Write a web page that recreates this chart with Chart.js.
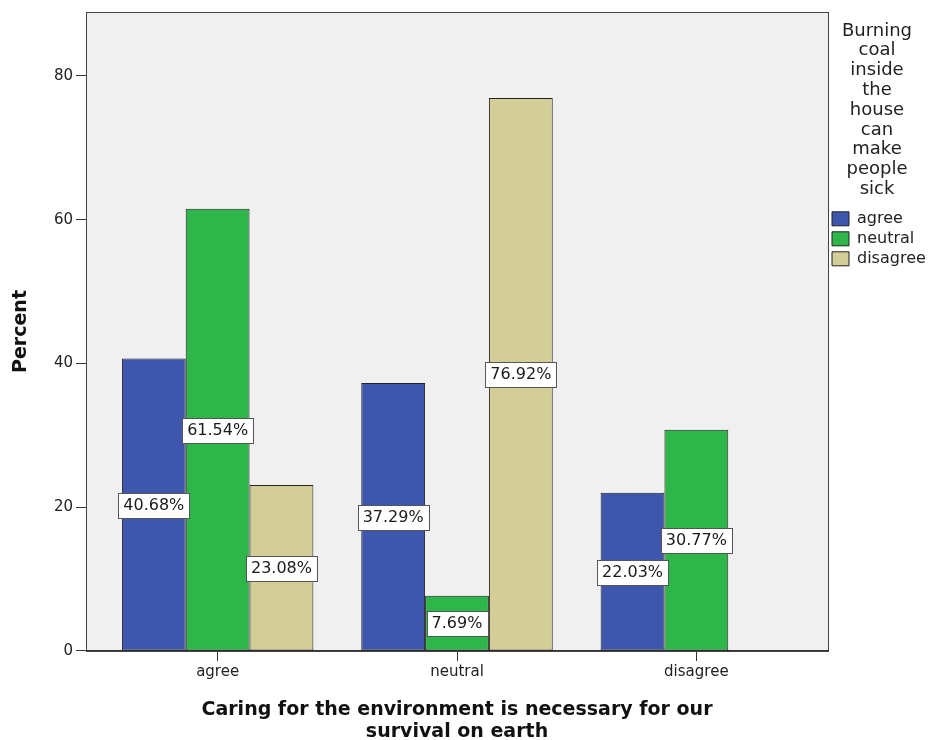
<!DOCTYPE html>
<html lang="en">
<head>
  <meta charset="UTF-8" />
  <title>Caring for the environment vs burning coal</title>
  <script src="https://cdn.jsdelivr.net/npm/chart.js"></script>
  <style>
    body { margin:0; background:#fff; }
    #wrap { width:930px; height:740px; }
  </style>
</head>
<body>
  <div id="wrap"><canvas id="chart" width="930" height="740"></canvas></div>

  <script>
    const categories = ['agree', 'neutral', 'disagree'];
    const seriesNames = ['agree', 'neutral', 'disagree'];
    const agreeVals = [40.68, 37.29, 22.03];
    const neutralVals = [61.54, 7.69, 30.77];
    const disagreeVals = [23.08, 76.92, null];
    const yTicks = [0, 20, 40, 60, 80];
    const legendTitle = ['Burning', 'coal', 'inside', 'the', 'house', 'can', 'make', 'people', 'sick'];
    const xTitle = ['Caring for the environment is necessary for our', 'survival on earth'];
    const colors = ['#3e57ac', '#2fb64a', '#d3ce97'];

    const FONT = '"DejaVu Sans", sans-serif';
    const toPoints = vals => vals.map((v, i) => ({ x: i, y: v }));
    const allVals = [agreeVals, neutralVals, disagreeVals];

    // plot background + frame
    const plotFrame = {
      id: 'plotFrame',
      beforeDraw(chart) {
        const { ctx, chartArea: a } = chart;
        ctx.save();
        ctx.fillStyle = '#f0f0f0';
        ctx.fillRect(a.left, a.top, a.right - a.left, a.bottom - a.top);
        ctx.restore();
      },
      afterDraw(chart) {
        const { ctx, chartArea: a } = chart;
        ctx.save();
        ctx.strokeStyle = '#444';
        ctx.lineWidth = 1;
        ctx.strokeRect(Math.round(a.left) + 0.5, Math.round(a.top) + 0.5,
          Math.round(a.right - a.left), Math.round(a.bottom - a.top));
        ctx.restore();
      }
    };

    // boxed percent labels at half bar height
    const boxLabels = {
      id: 'boxLabels',
      afterDatasetsDraw(chart) {
        const ctx = chart.ctx;
        ctx.save();
        ctx.font = '16px ' + FONT;
        ctx.textAlign = 'center';
        ctx.textBaseline = 'middle';
        chart.data.datasets.forEach((ds, di) => {
          chart.getDatasetMeta(di).data.forEach((bar, i) => {
            const v = ds.data[i].y;
            if (v == null) return;
            const txt = v.toFixed(2) + '%';
            const cy = Math.round((bar.y + bar.base) / 2);
            const w = Math.round(ctx.measureText(txt).width + 10), h = 25;
            const x0 = Math.round(bar.x - w / 2), y0 = Math.round(cy - h / 2);
            ctx.fillStyle = '#fff';
            ctx.fillRect(x0, y0, w, h);
            ctx.strokeStyle = '#555';
            ctx.lineWidth = 1;
            ctx.strokeRect(x0 + 0.5, y0 + 0.5, w, h);
            ctx.fillStyle = '#1a1a1a';
            ctx.fillText(txt, bar.x, cy + 1);
          });
        });
        ctx.restore();
      }
    };

    new Chart(document.getElementById('chart'), {
      type: 'bar',
      data: {
        datasets: seriesNames.map((name, k) => ({
          label: name,
          data: toPoints(allVals[k]),
          backgroundColor: colors[k],
          borderColor: '#222',
          borderWidth: 1,
          borderSkipped: false
        }))
      },
      options: {
        responsive: false,
        animation: false,
        categoryPercentage: 0.8,
        barPercentage: 1,
        layout: { padding: { top: 10, right: 4, bottom: -3, left: 0 } },
        plugins: {
          tooltip: { enabled: false },
          legend: {
            position: 'right',
            align: 'start',
            maxWidth: 98,
            title: {
              display: true,
              text: legendTitle,
              color: '#222',
              font: { family: FONT, size: 18, lineHeight: 1.1 },
              padding: { top: 12, bottom: 165 }
            },
            labels: {
              color: '#222',
              font: { family: FONT, size: 16 },
              boxWidth: 17,
              boxHeight: 14,
              padding: 4
            }
          }
        },
        scales: {
          x: {
            type: 'linear',
            offset: false,
            min: -0.55,
            max: 2.55,
            afterBuildTicks: s => { s.ticks = categories.map((c, i) => ({ value: i })); },
            ticks: {
              callback: v => categories[v],
              color: '#222',
              font: { family: FONT, size: 15 },
              padding: 2,
              maxRotation: 0
            },
            grid: { offset: false, drawOnChartArea: false, tickLength: 10, color: '#333' },
            border: { color: '#333' },
            title: {
              display: true,
              text: xTitle,
              color: '#111',
              font: { family: FONT, size: 19, weight: 'bold', lineHeight: 1.158 },
              padding: { top: 16, bottom: 0 }
            }
          },
          y: {
            min: 0,
            max: 88.9,
            afterBuildTicks: s => { s.ticks = yTicks.map(v => ({ value: v })); },
            afterFit: s => { s.width = 86; },
            ticks: {
              color: '#222',
              font: { family: FONT, size: 15 },
              padding: 3
            },
            grid: { drawOnChartArea: false, tickLength: 10, color: '#333' },
            border: { color: '#333' },
            title: {
              display: true,
              text: 'Percent',
              color: '#111',
              font: { family: FONT, size: 19, weight: 'bold' },
              padding: { top: 10, bottom: 0 }
            }
          }
        }
      },
      plugins: [plotFrame, boxLabels]
    });
  </script>
</body>
</html>
